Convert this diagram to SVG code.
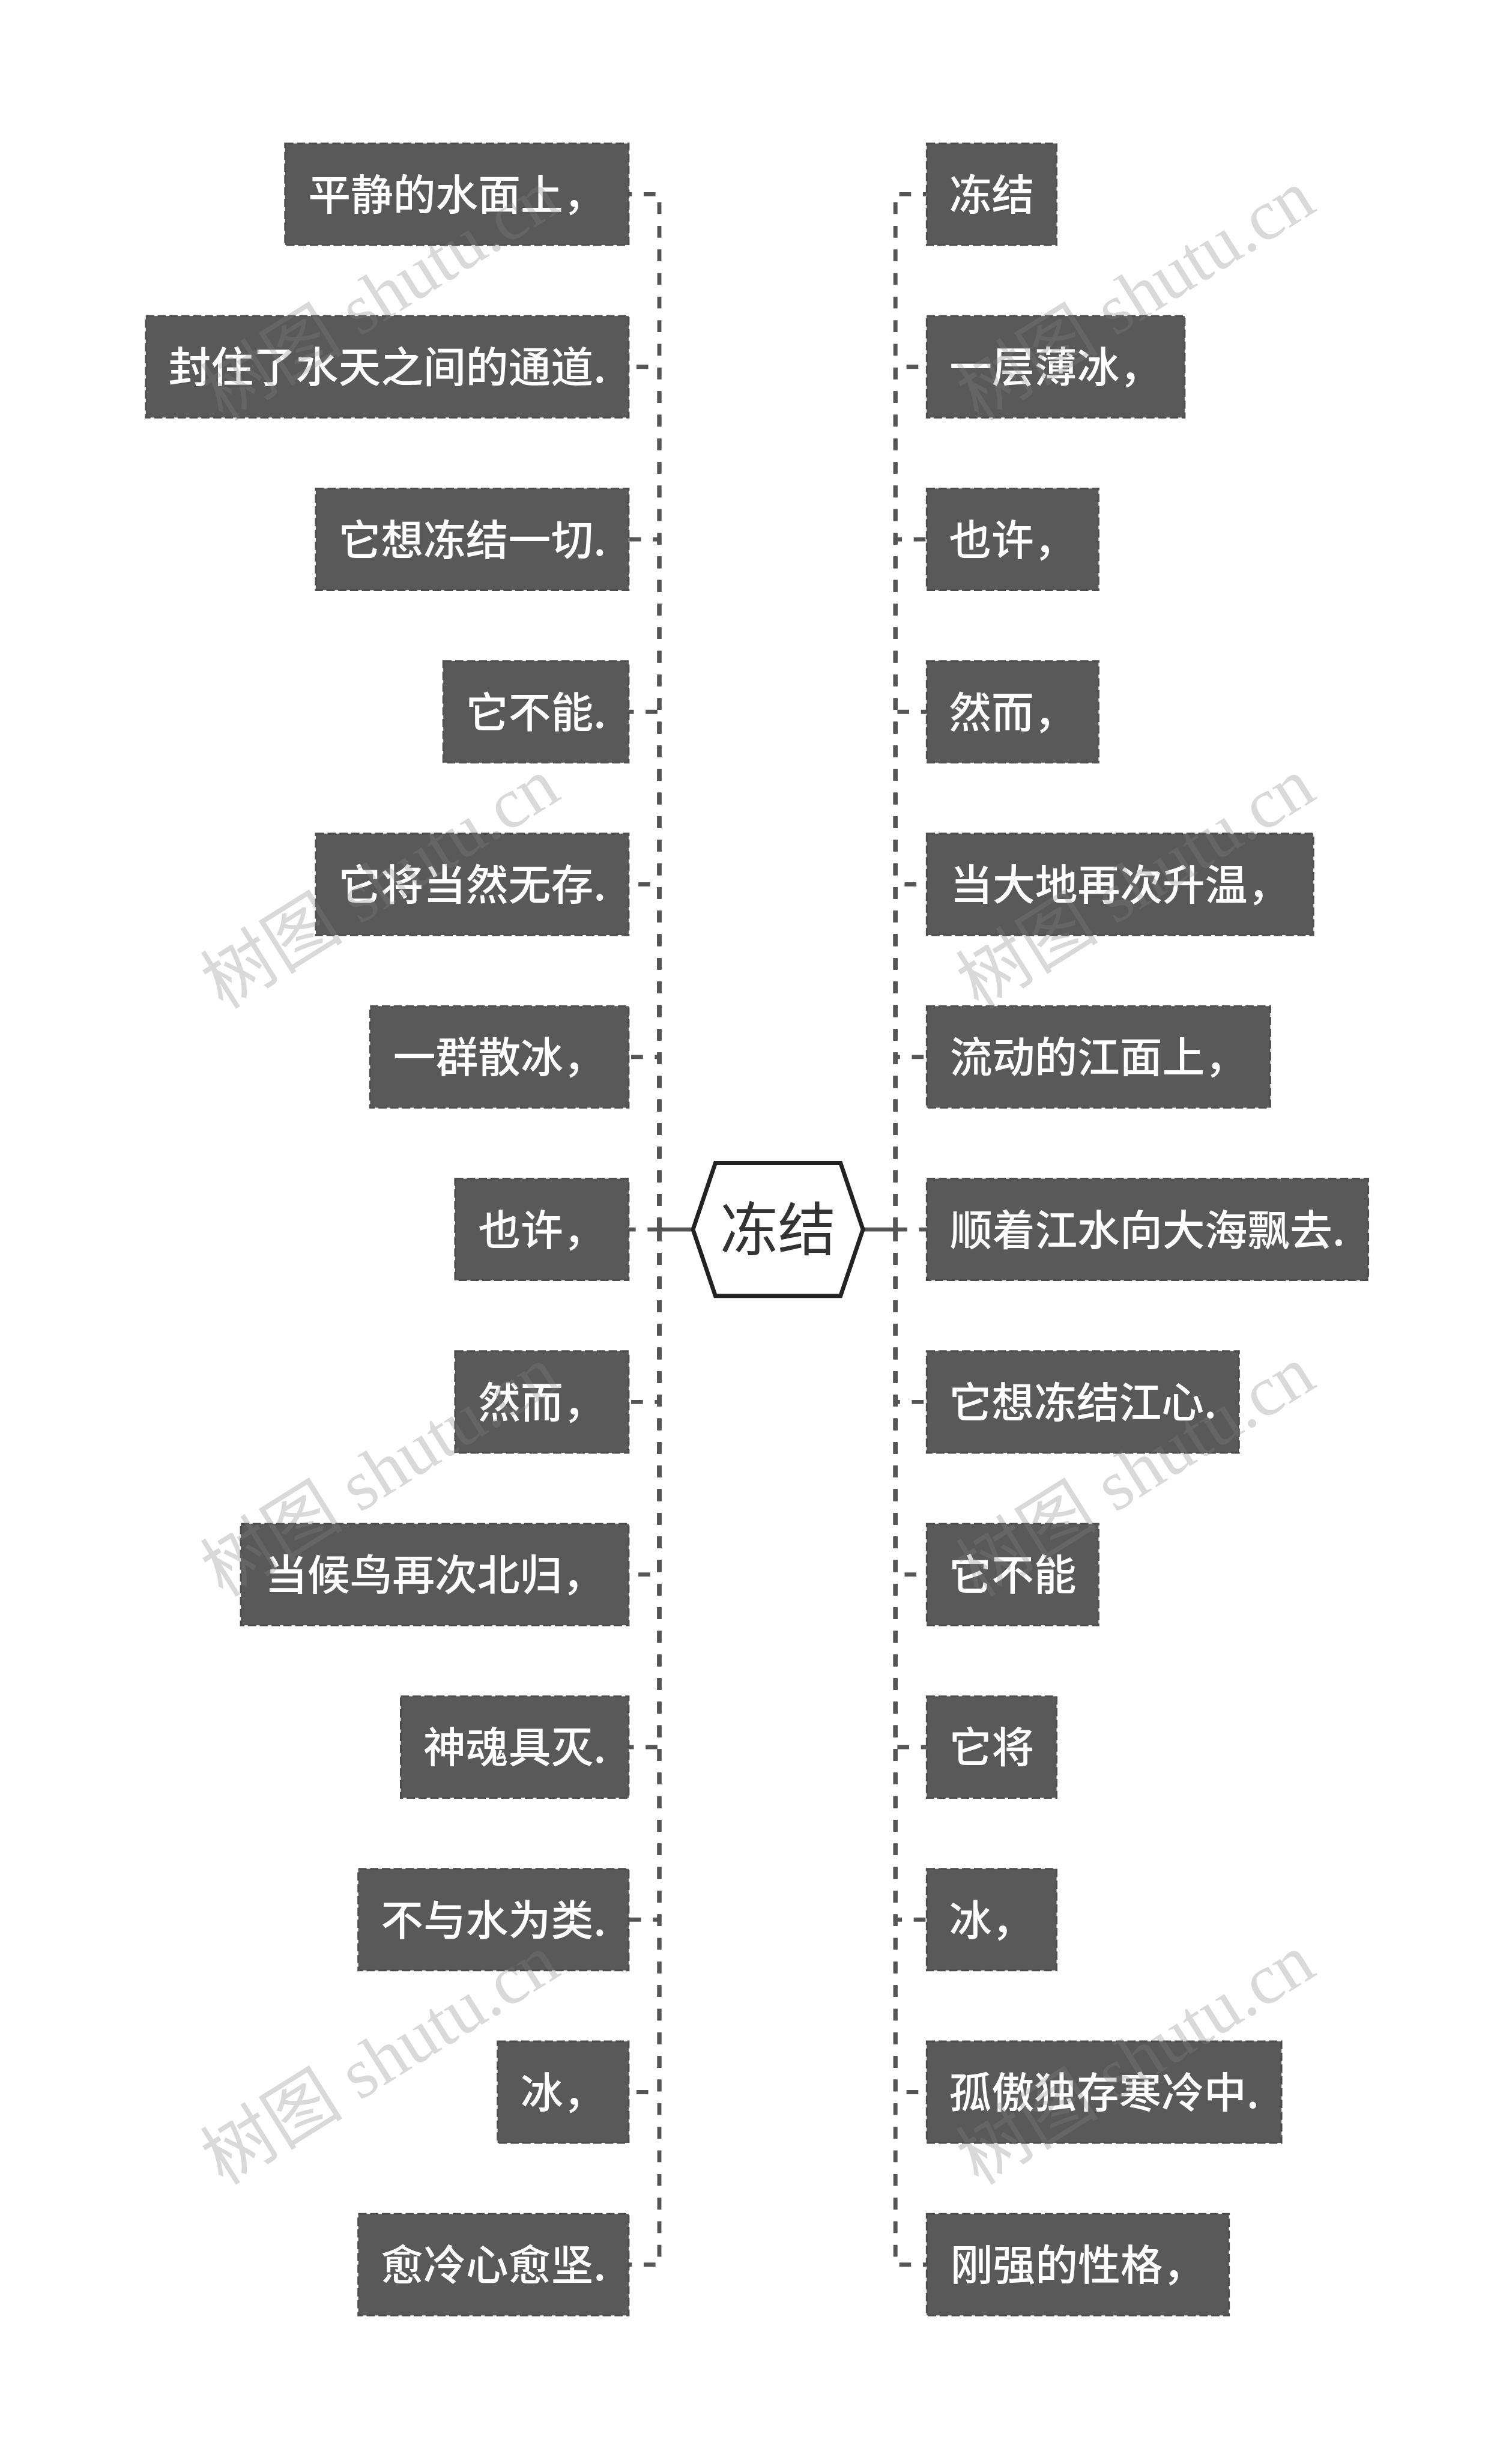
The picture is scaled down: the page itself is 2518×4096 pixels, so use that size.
<svg xmlns="http://www.w3.org/2000/svg" width="2518" height="4096" viewBox="0 0 2518 4096">
<style>
.box{fill:#595959;stroke:#4d4d4d;stroke-width:3;stroke-dasharray:14 6}
.lbl{font-family:"Noto Sans CJK SC","Noto Sans",sans-serif;font-size:72px;font-weight:500;fill:#ffffff;text-anchor:middle}
.conn{fill:none;stroke:#555555;stroke-width:7;stroke-dasharray:20 20}
.stub{fill:none;stroke:#555555;stroke-width:7}
.hex{fill:#ffffff;stroke:#222222;stroke-width:7;stroke-linejoin:miter}
.root{font-family:"Noto Sans CJK SC","Noto Sans",sans-serif;font-size:98px;fill:#333333;text-anchor:middle}
.wm{font-family:"Liberation Serif","Noto Sans CJK SC",serif;font-size:121px;fill:#808080;fill-opacity:0.3}
</style>
<rect width="2518" height="4096" fill="#ffffff"/>
<g transform="scale(0.983)">
<g id="connectors">
<path class="stub" d="M1174,2082.5 H1117"/>
<path class="stub" d="M1462,2082.5 H1517"/>
<path class="conn" d="M1117,2082.5 V329 H1065"/>
<path class="conn" d="M1117,2082.5 V621.25 H1065"/>
<path class="conn" d="M1117,2082.5 V913.5 H1065"/>
<path class="conn" d="M1117,2082.5 V1205.75 H1065"/>
<path class="conn" d="M1117,2082.5 V1498 H1065"/>
<path class="conn" d="M1117,2082.5 V1790.25 H1065"/>
<path class="conn" d="M1117,2082.5 H1065"/>
<path class="conn" d="M1117,2082.5 V2374.75 H1065"/>
<path class="conn" d="M1117,2082.5 V2667 H1065"/>
<path class="conn" d="M1117,2082.5 V2959.25 H1065"/>
<path class="conn" d="M1117,2082.5 V3251.5 H1065"/>
<path class="conn" d="M1117,2082.5 V3543.75 H1065"/>
<path class="conn" d="M1117,2082.5 V3836 H1065"/>
<path class="conn" d="M1517,2082.5 V329 H1570"/>
<path class="conn" d="M1517,2082.5 V621.25 H1570"/>
<path class="conn" d="M1517,2082.5 V913.5 H1570"/>
<path class="conn" d="M1517,2082.5 V1205.75 H1570"/>
<path class="conn" d="M1517,2082.5 V1498 H1570"/>
<path class="conn" d="M1517,2082.5 V1790.25 H1570"/>
<path class="conn" d="M1517,2082.5 H1570"/>
<path class="conn" d="M1517,2082.5 V2374.75 H1570"/>
<path class="conn" d="M1517,2082.5 V2667 H1570"/>
<path class="conn" d="M1517,2082.5 V2959.25 H1570"/>
<path class="conn" d="M1517,2082.5 V3251.5 H1570"/>
<path class="conn" d="M1517,2082.5 V3543.75 H1570"/>
<path class="conn" d="M1517,2082.5 V3836 H1570"/>
</g>
<g id="root">
<path class="hex" d="M1174,2082.5 L1212,1970 L1424,1970 L1462,2082.5 L1424,2195 L1212,2195 Z"/>
<text class="root" x="1318" y="2118">冻结</text>
</g>
<g id="L1"><rect class="box" x="483" y="243" width="582" height="172"/><text class="lbl" x="774" y="356">平静的水面上，</text></g>
<g id="L2"><rect class="box" x="247" y="535.25" width="818" height="172"/><text class="lbl" x="656" y="648.25">封住了水天之间的通道.</text></g>
<g id="L3"><rect class="box" x="535" y="827.5" width="530" height="172"/><text class="lbl" x="800" y="940.5">它想冻结一切.</text></g>
<g id="L4"><rect class="box" x="751" y="1119.75" width="314" height="172"/><text class="lbl" x="908" y="1232.75">它不能.</text></g>
<g id="L5"><rect class="box" x="535" y="1412" width="530" height="172"/><text class="lbl" x="800" y="1525">它将当然无存.</text></g>
<g id="L6"><rect class="box" x="627" y="1704.25" width="438" height="172"/><text class="lbl" x="846" y="1817.25">一群散冰，</text></g>
<g id="L7"><rect class="box" x="771" y="1996.5" width="294" height="172"/><text class="lbl" x="918" y="2109.5">也许，</text></g>
<g id="L8"><rect class="box" x="771" y="2288.75" width="294" height="172"/><text class="lbl" x="918" y="2401.75">然而，</text></g>
<g id="L9"><rect class="box" x="408" y="2581" width="657" height="172"/><text class="lbl" x="736.5" y="2694">当候鸟再次北归，</text></g>
<g id="L10"><rect class="box" x="679" y="2873.25" width="386" height="172"/><text class="lbl" x="872" y="2986.25">神魂具灭.</text></g>
<g id="L11"><rect class="box" x="607" y="3165.5" width="458" height="172"/><text class="lbl" x="836" y="3278.5">不与水为类.</text></g>
<g id="L12"><rect class="box" x="843" y="3457.75" width="222" height="172"/><text class="lbl" x="954" y="3570.75">冰，</text></g>
<g id="L13"><rect class="box" x="607" y="3750" width="458" height="172"/><text class="lbl" x="836" y="3863">愈冷心愈坚.</text></g>
<g id="R1"><rect class="box" x="1570" y="243" width="220" height="172"/><text class="lbl" x="1680" y="356">冻结</text></g>
<g id="R2"><rect class="box" x="1570" y="535.25" width="437" height="172"/><text class="lbl" x="1788.5" y="648.25">一层薄冰，</text></g>
<g id="R3"><rect class="box" x="1570" y="827.5" width="291" height="172"/><text class="lbl" x="1715.5" y="940.5">也许，</text></g>
<g id="R4"><rect class="box" x="1570" y="1119.75" width="291" height="172"/><text class="lbl" x="1715.5" y="1232.75">然而，</text></g>
<g id="R5"><rect class="box" x="1570" y="1412" width="655" height="172"/><text class="lbl" x="1897.5" y="1525">当大地再次升温，</text></g>
<g id="R6"><rect class="box" x="1570" y="1704.25" width="582" height="172"/><text class="lbl" x="1861" y="1817.25">流动的江面上，</text></g>
<g id="R7"><rect class="box" x="1570" y="1996.5" width="748" height="172"/><text class="lbl" x="1944" y="2109.5">顺着江水向大海飘去.</text></g>
<g id="R8"><rect class="box" x="1570" y="2288.75" width="529" height="172"/><text class="lbl" x="1834.5" y="2401.75">它想冻结江心.</text></g>
<g id="R9"><rect class="box" x="1570" y="2581" width="291" height="172"/><text class="lbl" x="1715.5" y="2694">它不能</text></g>
<g id="R10"><rect class="box" x="1570" y="2873.25" width="220" height="172"/><text class="lbl" x="1680" y="2986.25">它将</text></g>
<g id="R11"><rect class="box" x="1570" y="3165.5" width="220" height="172"/><text class="lbl" x="1680" y="3278.5">冰，</text></g>
<g id="R12"><rect class="box" x="1570" y="3457.75" width="601" height="172"/><text class="lbl" x="1870.5" y="3570.75">孤傲独存寒冷中.</text></g>
<g id="R13"><rect class="box" x="1570" y="3750" width="512" height="172"/><text class="lbl" x="1826" y="3863">刚强的性格，</text></g>
<g id="watermark">
<text class="wm" transform="translate(378,715) rotate(-32)">树图 shutu.cn</text>
<text class="wm" transform="translate(378,1711) rotate(-32)">树图 shutu.cn</text>
<text class="wm" transform="translate(378,2707) rotate(-32)">树图 shutu.cn</text>
<text class="wm" transform="translate(378,3703) rotate(-32)">树图 shutu.cn</text>
<text class="wm" transform="translate(1658,715) rotate(-32)">树图 shutu.cn</text>
<text class="wm" transform="translate(1658,1711) rotate(-32)">树图 shutu.cn</text>
<text class="wm" transform="translate(1658,2707) rotate(-32)">树图 shutu.cn</text>
<text class="wm" transform="translate(1658,3703) rotate(-32)">树图 shutu.cn</text>
</g>
</g>
</svg>
